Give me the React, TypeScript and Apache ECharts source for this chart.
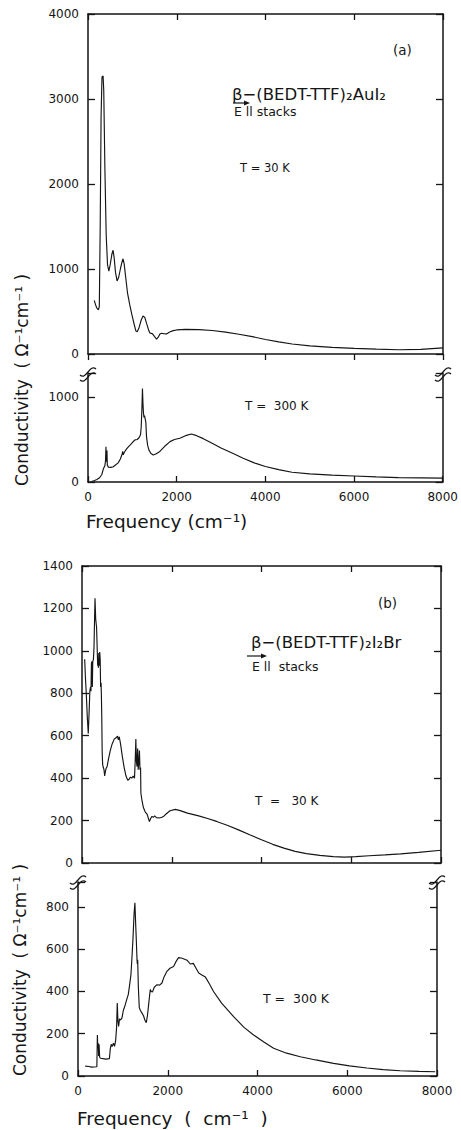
import { useEffect, useRef } from 'react';
import * as echarts from 'echarts';

const xTickLabels = [0, 2000, 4000, 6000, 8000];
const aUpperYLabels = [0, 1000, 2000, 3000, 4000];
const aLowerYLabels = [0, 1000];
const bUpperYLabels = [0, 200, 400, 600, 800, 1000, 1200, 1400];
const bLowerYLabels = [0, 200, 400, 600, 800];

// (a) beta-(BEDT-TTF)2AuI2, T = 30 K  [frequency cm-1, conductivity]
const aCold: number[][] = [
  [140, 630], [170, 580], [200, 540], [235, 520], [255, 560], [275, 1500], [295, 2800], [315, 3260],
  [340, 3270], [355, 3100], [380, 2200], [410, 1400], [440, 1050], [470, 975], [500, 1050], [540, 1180],
  [565, 1220], [590, 1130], [620, 960], [655, 860], [690, 900], [730, 1000], [765, 1080], [790, 1120],
  [815, 1060], [850, 900], [890, 720], [940, 580], [990, 460], [1040, 350], [1080, 270], [1110, 262],
  [1150, 310], [1200, 400], [1240, 448], [1280, 430], [1320, 360], [1370, 275], [1400, 245], [1450, 240],
  [1500, 205], [1545, 175], [1580, 195], [1620, 235], [1660, 245], [1700, 238], [1770, 236], [1840, 258],
  [1920, 275], [2000, 283], [2200, 290], [2500, 286], [2800, 276], [3100, 258], [3400, 232], [3700, 205],
  [4000, 170], [4300, 142], [4600, 118], [5000, 96], [5500, 78], [6000, 67], [6500, 58], [7000, 50],
  [7500, 54], [8000, 72],
];

// (a) T = 300 K
const aWarm: number[][] = [
  [80, 5], [150, 18], [200, 30], [260, 50], [310, 85], [350, 160], [380, 190], [395, 250], [405, 415],
  [412, 240], [420, 300], [428, 370], [435, 200], [460, 175], [520, 172], [570, 180], [620, 200],
  [680, 225], [730, 270], [770, 330], [782, 360], [795, 320], [820, 350], [870, 390], [920, 420],
  [960, 440], [1010, 470], [1060, 495], [1110, 500], [1150, 520], [1185, 555], [1200, 650], [1215, 850],
  [1228, 1100], [1240, 920], [1250, 820], [1262, 760], [1275, 780], [1290, 740], [1305, 700], [1320, 530],
  [1345, 430], [1375, 375], [1420, 335], [1470, 318], [1530, 330], [1620, 360], [1730, 420], [1850, 475],
  [1950, 500], [2070, 515], [2200, 545], [2330, 565], [2450, 545], [2600, 510], [2800, 455], [3000, 400],
  [3250, 340], [3500, 280], [3750, 225], [4000, 182], [4300, 145], [4600, 115], [5000, 95], [5500, 80],
  [6000, 70], [6500, 60], [7000, 52], [7500, 48], [8000, 45],
];

// (b) beta-(BEDT-TTF)2I2Br, T = 30 K
const bCold: number[][] = [
  [60, 960], [75, 880], [95, 800], [120, 680], [140, 610], [160, 720], [175, 810], [190, 830], [200, 810],
  [210, 940], [220, 950], [230, 830], [240, 950], [255, 960], [268, 1020], [280, 1150], [290, 1248],
  [305, 1150], [325, 1110], [340, 1000], [350, 930], [358, 960], [365, 920], [375, 990], [385, 930],
  [395, 995], [405, 960], [415, 830], [425, 850], [432, 790], [440, 700], [450, 520], [460, 465],
  [475, 450], [490, 440], [505, 410], [520, 430], [535, 445], [560, 455], [590, 490], [630, 530],
  [670, 560], [720, 585], [760, 590], [790, 598], [810, 580], [830, 595], [860, 560], [900, 500],
  [940, 450], [980, 410], [1020, 390], [1050, 395], [1080, 405], [1110, 400], [1140, 410], [1170, 400],
  [1185, 480], [1200, 585], [1212, 480], [1225, 455], [1240, 540], [1252, 440], [1265, 470], [1280, 530],
  [1292, 440], [1305, 450], [1312, 330], [1340, 290], [1370, 260], [1410, 240], [1450, 230], [1480, 210],
  [1503, 195], [1530, 210], [1560, 220], [1590, 215], [1620, 222], [1660, 214], [1720, 212], [1780, 216],
  [1830, 222], [1880, 232], [1960, 246], [2080, 253], [2190, 247], [2350, 235], [2600, 222], [2800, 210],
  [3000, 196], [3250, 177], [3500, 155], [3750, 132], [4000, 110], [4250, 88], [4500, 70], [4750, 55],
  [5000, 44], [5300, 36], [5600, 30], [5850, 28], [6100, 30], [6400, 34], [6750, 38], [7100, 43],
  [7500, 50], [8000, 60],
];

// (b) T = 300 K
const bWarm: number[][] = [
  [160, 47], [250, 45], [300, 42], [420, 44], [432, 194], [442, 130], [450, 155], [460, 95], [470, 150],
  [482, 90], [500, 84], [560, 82], [620, 80], [700, 82], [720, 130], [740, 150], [760, 140], [790, 155],
  [815, 140], [840, 170], [860, 230], [875, 345], [890, 260], [905, 235], [925, 270], [950, 265],
  [980, 275], [1010, 310], [1050, 335], [1090, 365], [1120, 385], [1150, 430], [1180, 480], [1205, 570],
  [1225, 650], [1250, 770], [1268, 820], [1285, 720], [1300, 640], [1315, 550], [1322, 530], [1330, 550],
  [1345, 420], [1365, 325], [1390, 310], [1420, 300], [1460, 285], [1490, 265], [1522, 252], [1550, 290],
  [1575, 340], [1595, 380], [1612, 410], [1630, 400], [1660, 398], [1700, 420], [1760, 432], [1820, 430],
  [1870, 440], [1920, 470], [1980, 495], [2050, 510], [2130, 518], [2180, 540], [2240, 560], [2320, 557],
  [2430, 548], [2500, 530], [2570, 533], [2630, 510], [2690, 487], [2760, 478], [2840, 468], [2930, 435],
  [3020, 400], [3200, 345], [3467, 281], [3700, 230], [3913, 194], [4150, 160], [4359, 131], [4650, 108],
  [4953, 91], [5300, 76], [5695, 60], [6050, 48], [6439, 38], [6800, 30], [7181, 25], [7600, 22],
  [7961, 20],
];

const INK = '#151515';
const FONT = '"DejaVu Sans", sans-serif';

type Panel = {
  grid: { left: number; top: number; width: number; height: number };
  yMax: number;
  yStep: number;
  yLabels: number[];
  upper: boolean;
  xLabels: boolean;
  bottomTickOut: boolean;
  data: number[][];
};

const panels: Panel[] = [
  { grid: { left: 88, top: 14, width: 355, height: 340 }, yMax: 4000, yStep: 1000, yLabels: aUpperYLabels, upper: true, xLabels: false, bottomTickOut: true, data: aCold },
  { grid: { left: 88, top: 373, width: 355, height: 109 }, yMax: 1282, yStep: 1000, yLabels: aLowerYLabels, upper: false, xLabels: true, bottomTickOut: false, data: aWarm },
  { grid: { left: 82, top: 566, width: 359, height: 297 }, yMax: 1400, yStep: 200, yLabels: bUpperYLabels, upper: true, xLabels: false, bottomTickOut: false, data: bCold },
  { grid: { left: 78, top: 882, width: 359, height: 194 }, yMax: 918, yStep: 200, yLabels: bLowerYLabels, upper: false, xLabels: true, bottomTickOut: false, data: bWarm },
];

function breakMark(x: number, y: number) {
  const mk = (dy: number) => ({
    type: 'bezierCurve',
    shape: { x1: x - 8, y1: y + 3 + dy, x2: x + 8, y2: y - 3 + dy, cpx1: x - 2, cpy1: y + 9 + dy, cpx2: x + 2, cpy2: y - 9 + dy },
    style: { stroke: INK, lineWidth: 1.2, fill: null },
  });
  return [mk(-2), mk(3)];
}

function txt(text: string, x: number, y: number, size: number, align = 'left', rotation = 0) {
  return {
    type: 'text',
    x, y, rotation,
    style: {
      text, fill: INK, font: `${size}px ${FONT}`, fontSize: size, fontFamily: FONT,
      align, textAlign: align, verticalAlign: 'middle', textVerticalAlign: 'middle',
    },
  };
}

function arrow(x1: number, x2: number, y: number) {
  return [
    { type: 'line', shape: { x1, y1: y, x2: x2 - 4, y2: y }, style: { stroke: INK, lineWidth: 1.2 } },
    { type: 'polygon', shape: { points: [[x2 - 6, y - 2.5], [x2, y], [x2 - 6, y + 2.5]] }, style: { fill: INK } },
  ];
}

const plain = (v: number) => String(Math.round(v));

export default function App() {
  const ref = useRef<HTMLDivElement>(null);
  useEffect(() => {
    if (!ref.current) return;
    const chart = echarts.init(ref.current, undefined, { renderer: 'svg' });
    const xAxis: any[] = [];
    const yAxis: any[] = [];
    const series: any[] = [];
    const tickStyle = { color: INK, width: 1.3 };
    const lineStyle = { color: INK, width: 1.5 };
    panels.forEach((p, i) => {
      xAxis.push({
        type: 'value', gridIndex: i, min: 0, max: 8000, interval: 2000, position: 'bottom',
        axisLine: { show: true, onZero: false, lineStyle },
        axisTick: { show: true, inside: !p.bottomTickOut, length: 6, lineStyle: tickStyle },
        axisLabel: { show: p.xLabels, customValues: xTickLabels, formatter: plain, color: INK, fontSize: 12, fontFamily: FONT, margin: 9 },
        splitLine: { show: false },
      });
      xAxis.push({
        type: 'value', gridIndex: i, min: 0, max: 8000, interval: 2000, position: 'top',
        axisLine: { show: p.upper, onZero: false, lineStyle },
        axisTick: { show: p.upper, inside: true, length: 6, lineStyle: tickStyle },
        axisLabel: { show: false },
        splitLine: { show: false },
      });
      yAxis.push({
        type: 'value', gridIndex: i, min: 0, max: p.yMax, interval: p.yStep, position: 'left',
        axisLine: { show: true, onZero: false, lineStyle },
        axisTick: { show: true, inside: true, length: 7, lineStyle: tickStyle },
        axisLabel: { show: true, customValues: p.yLabels, formatter: plain, color: INK, fontSize: 12, fontFamily: FONT, margin: 9 },
        splitLine: { show: false },
      });
      yAxis.push({
        type: 'value', gridIndex: i, min: 0, max: p.yMax, interval: p.yStep, position: 'right',
        axisLine: { show: true, onZero: false, lineStyle },
        axisTick: { show: true, inside: true, length: 7, lineStyle: tickStyle },
        axisLabel: { show: false },
        splitLine: { show: false },
      });
      series.push({
        type: 'line', xAxisIndex: 2 * i, yAxisIndex: 2 * i, data: p.data,
        showSymbol: false, symbol: 'none', clip: true,
        lineStyle: { color: INK, width: 1.15 },
      });
    });

    const graphic: any[] = [
      txt('(a)', 393, 50, 13.5),
      txt('β−(BEDT-TTF)₂AuI₂', 232, 94, 16.5),
      ...arrow(233, 250, 103),
      txt('E ll stacks', 234, 111, 12.5),
      txt('T = 30 K', 240, 168, 11.5),
      txt('T =  300 K', 245, 406, 12),
      txt('Frequency (cm⁻¹)', 86, 521, 18.5),
      txt('Conductivity  ( Ω⁻¹cm⁻¹ )', 22, 380, 17, 'center', Math.PI / 2),
      ...breakMark(88, 374),
      ...breakMark(443, 374),

      txt('(b)', 378, 603, 13.5),
      txt('β−(BEDT-TTF)₂I₂Br', 251, 642, 16.5),
      ...arrow(247, 267, 656),
      txt('E ll  stacks', 252, 666, 12.5),
      txt('T  =   30 K', 255, 801, 12),
      txt('T =  300 K', 263, 998, 12.5),
      txt('Frequency  (  cm⁻¹  )', 77, 1118, 18.5),
      txt('Conductivity  ( Ω⁻¹cm⁻¹ )', 20, 970, 17, 'center', Math.PI / 2),
      ...breakMark(78, 882),
      ...breakMark(437, 882),
    ];

    chart.setOption({
      animation: false,
      backgroundColor: '#ffffff',
      grid: panels.map((p) => ({ ...p.grid, containLabel: false })),
      xAxis,
      yAxis,
      series,
      graphic: { elements: graphic },
    });
    return () => chart.dispose();
  }, []);
  return <div ref={ref} style={{ position: 'absolute', left: 0, top: 0, width: 461, height: 1130, background: '#fff' }} />;
}
